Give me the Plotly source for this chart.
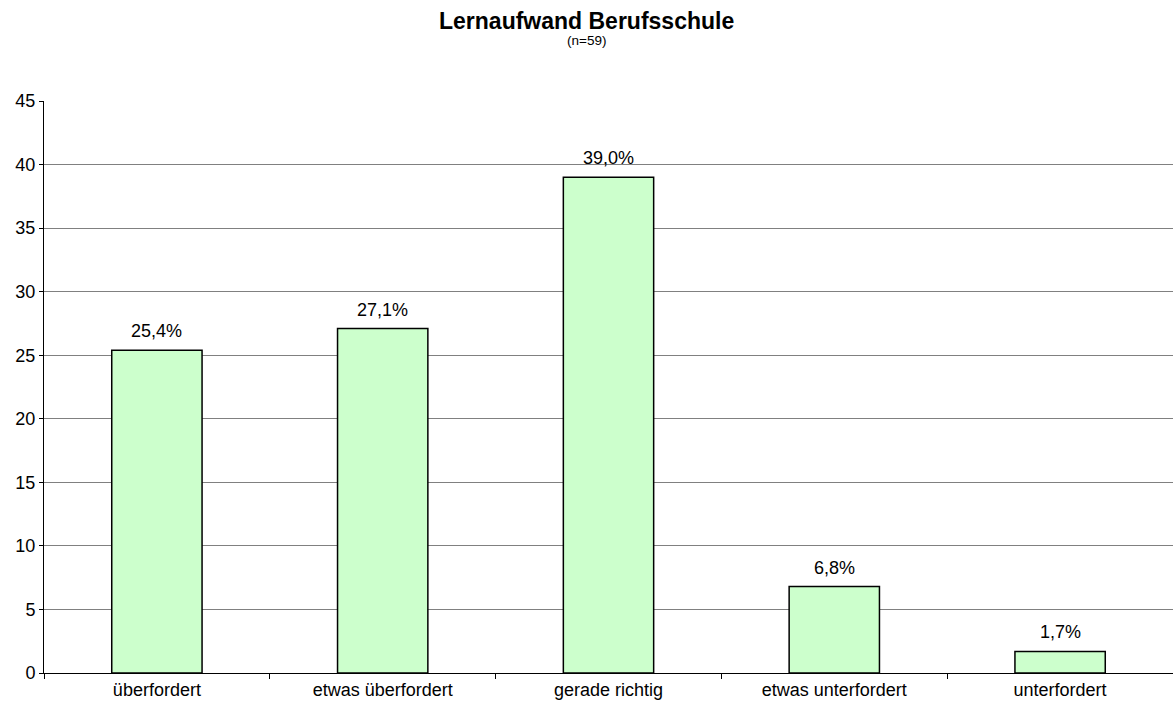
import plotly.graph_objects as go

categories = ['überfordert', 'etwas überfordert', 'gerade richtig', 'etwas unterfordert', 'unterfordert']
values = [25.4, 27.1, 39.0, 6.8, 1.7]
labels = ['25,4%', '27,1%', '39,0%', '6,8%', '1,7%']

fig = go.Figure(go.Bar(
    x=categories,
    y=values,
    marker=dict(color='#CCFFCC', line=dict(color='black', width=1.5)),
))

fig.update_layout(
    width=1173, height=711,
    margin=dict(l=44, r=0, t=101, b=38),
    paper_bgcolor='white', plot_bgcolor='white',
    font=dict(family='Liberation Sans, Arial, sans-serif', size=18, color='black'),
    bargap=0.6,
    showlegend=False,
)

for cat, val, lab in zip(categories, values, labels):
    fig.add_annotation(x=cat, y=val, text=lab, showarrow=False,
                       yanchor='bottom', yshift=7, font=dict(size=18))

fig.add_annotation(text='<b>Lernaufwand Berufsschule</b>', xref='paper', yref='paper',
                   x=542 / 1129, y=1 + 80 / 572, showarrow=False,
                   font=dict(size=23), yanchor='middle')
fig.add_annotation(text='(n=59)', xref='paper', yref='paper',
                   x=542 / 1129, y=1 + 60 / 572, showarrow=False,
                   font=dict(size=13.5), yanchor='middle')

fig.update_xaxes(
    showgrid=False, showline=True, linecolor='black', linewidth=1,
    ticks='outside', tickson='boundaries', ticklen=5, tickcolor='black',
    tickfont=dict(size=18),
)
fig.update_yaxes(
    range=[0, 45], dtick=5, showgrid=True, gridcolor='#808080', gridwidth=1,
    showline=True, linecolor='black', linewidth=1,
    ticks='outside', ticklen=4, tickcolor='black', zeroline=False,
    tickfont=dict(size=18),
)

# drop the default body margin so the figure fills the window exactly
fig.write_html('out.html', config={'displayModeBar': False},
               post_script="document.body.style.margin='0';document.body.style.overflow='hidden';")
